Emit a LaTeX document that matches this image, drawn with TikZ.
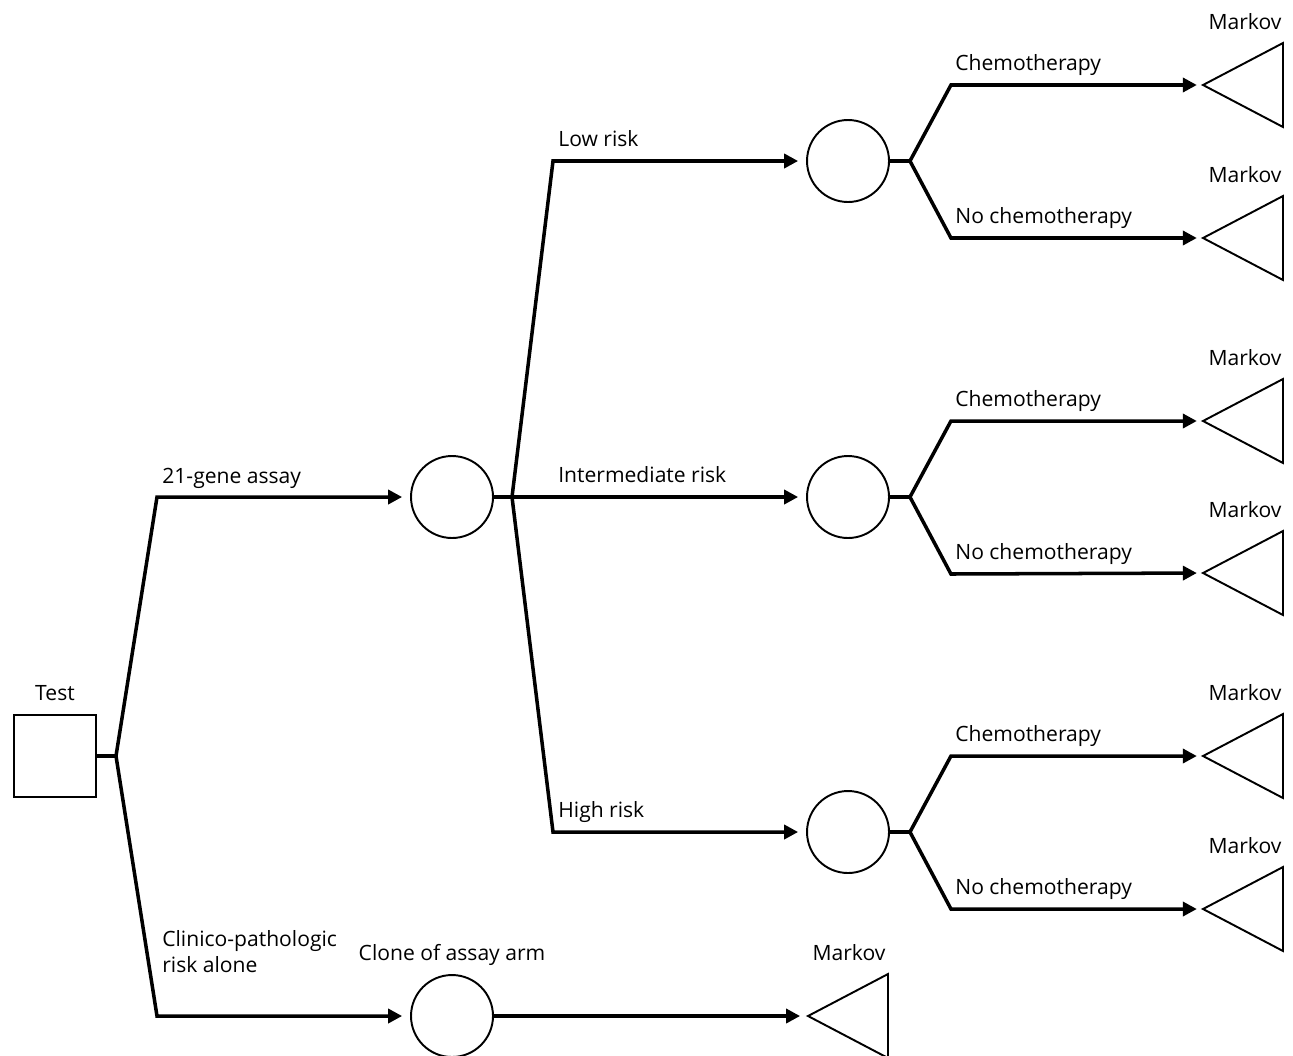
\documentclass[tikz,border=0pt]{standalone}
\usepackage{fontspec}
\setmainfont{Open Sans}
\usetikzlibrary{arrows.meta}
\begin{document}
\begin{tikzpicture}[x=0.02cm,y=-0.02cm,
  conn/.style={line width=2pt,line join=miter},
  arr/.style={conn,-{Triangle[length=8pt,width=8pt]},shorten >=4.5pt},
  arrt/.style={conn,-{Triangle[length=8pt,width=8pt]},shorten >=3.5pt},
  chance/.style={circle,draw,line width=1.1pt,minimum size=1.64cm,inner sep=0pt},
  decision/.style={rectangle,draw,line width=1.1pt,minimum size=1.64cm,inner sep=0pt},
  lbl/.style={font=\fontsize{12}{14.6}\selectfont,inner sep=0pt},
  term/.style={line width=1.1pt,line join=miter}]
\useasboundingbox (0,0) rectangle (1293,1055);

% decision node
\node[decision] (test) at (55,756) {};
\node[lbl,anchor=base] (testlbl) at (55,700) {Test};

% chance nodes
\node[chance] (gene) at (452,497) {};
\node[chance] (clone) at (452,1016) {};
\node[chance] (low) at (848,161) {};
\node[chance] (mid) at (848,497) {};
\node[chance] (high) at (848,832) {};

% junctions and corners
\coordinate (j0) at (116,756);
\coordinate (c1) at (157,497);
\coordinate (c2) at (157,1016);
\coordinate (j1) at (512,497);
\coordinate (c3) at (553,161);
\coordinate (c4) at (553,832);

\draw[conn] (test.east) -- (j0);
\draw[arr] (j0) -- (c1) -- (gene.west);
\draw[arr] (j0) -- (c2) -- (clone.west);
\draw[conn] (gene.east) -- (j1);
\draw[arr] (j1) -- (c3) -- (low.west);
\draw[arr] (j1) -- (mid.west);
\draw[arr] (j1) -- (c4) -- (high.west);

% terminal (Markov) triangles
\foreach \n/\y in {t1/85,t2/238,t3/421,t4/573,t5/756,t6/909}{
  \coordinate (\n) at (1203,\y);
  \draw[term] (\n) -- ++(80,-42) -- ++(0,84) -- cycle;
}
\coordinate (t7) at (808,1016);
\draw[term] (t7) -- ++(80,-42) -- ++(0,84) -- cycle;

% treatment branches
\foreach \c/\a/\b in {low/t1/t2,mid/t3/t4,high/t5/t6}{
  \draw[conn] (\c.east) -- ++(20,0) coordinate (jj\c);
  \draw[arrt] (jj\c) -- ++(41,-76) -- (\a);
  \draw[arrt] (jj\c) -- ++(41,77) -- (\b);
}
\draw[arr] (clone.east) -- (t7);

% labels
\node[lbl,anchor=base west] (l21) at (162,483) {21-gene assay};
\node[lbl,anchor=north west,align=left] (lcp) at (162,930) {Clinico-pathologic\\risk alone};
\node[lbl,anchor=base] (lclone) at (452,960) {Clone of assay arm};
\node[lbl,anchor=base west] (llow) at (558,146) {Low risk};
\node[lbl,anchor=base west] (lmid) at (558,482) {Intermediate risk};
\node[lbl,anchor=base west] (lhigh) at (558,817) {High risk};
\foreach \y [count=\i] in {70,406,741}{
  \node[lbl,anchor=base west] (chemo\i) at (955,\y) {Chemotherapy};
}
\foreach \y [count=\i] in {223,559,894}{
  \node[lbl,anchor=base west] (nochemo\i) at (955,\y) {No chemotherapy};
}
\foreach \y [count=\i] in {29,182,365,517,700,853}{
  \node[lbl,anchor=base] (mk\i) at (1245,\y) {Markov};
}
\node[lbl,anchor=base] (mk7) at (849,960) {Markov};
\end{tikzpicture}
\end{document}
